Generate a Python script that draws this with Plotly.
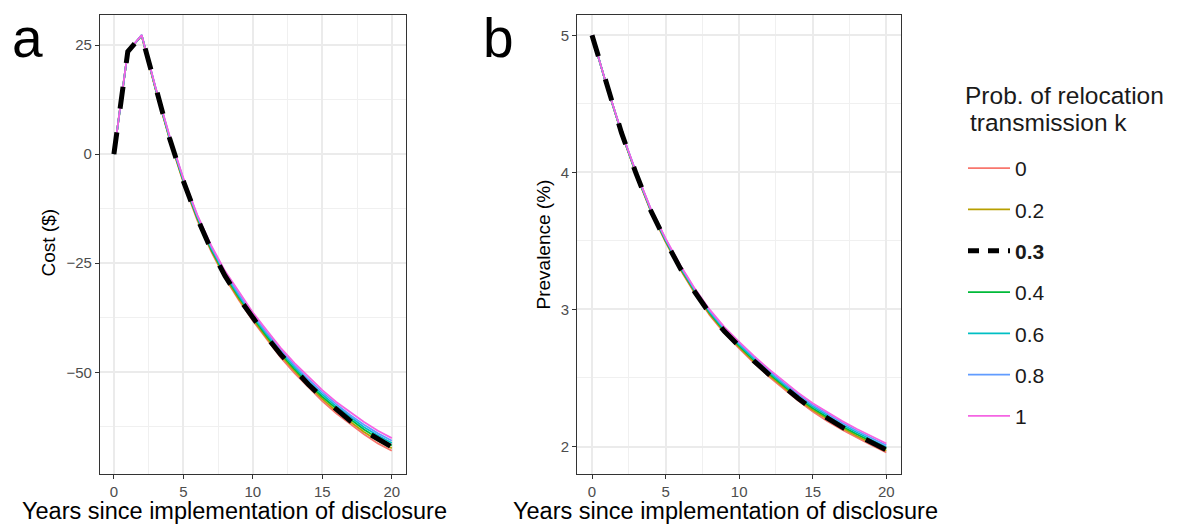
import plotly.graph_objects as go
from plotly.subplots import make_subplots

# Years since implementation of disclosure
years = list(range(21))

# Probability of relocation transmission k (legend order)
k_labels = ["0", "0.2", "0.3", "0.4", "0.6", "0.8", "1"]

# Cost ($) by year for each k
cost_k0 = [0, 23.5, 27.1, 14.8, 3.5, -6.5, -15.1, -22.3, -28.4, -33.5, -38.2,
           -42.5, -46.6, -50.2, -53.5, -56.6, -59.4, -61.9, -64.2, -66.3, -68.0]
cost_k02 = [0, 23.5, 27.2, 14.9, 3.6, -6.3, -14.8, -22.0, -28.1, -33.2, -37.8,
            -42.1, -46.1, -49.7, -53.0, -56.1, -58.9, -61.4, -63.7, -65.7, -67.4]
cost_k03 = [0, 23.5, 27.2, 14.9, 3.7, -6.2, -14.7, -21.9, -27.9, -33.0, -37.6,
            -41.9, -45.9, -49.5, -52.8, -55.8, -58.6, -61.1, -63.4, -65.4, -67.1]
cost_k04 = [0, 23.5, 27.2, 15.0, 3.8, -6.1, -14.6, -21.8, -27.7, -32.8, -37.4,
            -41.7, -45.7, -49.3, -52.6, -55.6, -58.3, -60.8, -63.1, -65.1, -66.8]
cost_k06 = [0, 23.5, 27.3, 15.1, 3.9, -5.9, -14.3, -21.5, -27.4, -32.5, -37.0,
            -41.3, -45.2, -48.8, -52.1, -55.1, -57.8, -60.3, -62.6, -64.5, -66.2]
cost_k08 = [0, 23.5, 27.3, 15.2, 4.1, -5.7, -14.1, -21.2, -27.1, -32.1, -36.7,
            -40.9, -44.8, -48.4, -51.6, -54.6, -57.3, -59.8, -62.0, -64.0, -65.7]
cost_k1 = [0, 23.6, 27.3, 15.3, 4.3, -5.5, -13.9, -20.9, -26.8, -31.7, -36.3,
           -40.4, -44.4, -47.9, -51.1, -54.1, -56.8, -59.2, -61.4, -63.4, -65.1]

# Prevalence (%) by year for each k
prev_k0 = [5.0, 4.629, 4.287, 3.986, 3.714, 3.492, 3.291, 3.115, 2.958, 2.827, 2.716,
           2.610, 2.512, 2.421, 2.335, 2.255, 2.185, 2.122, 2.064, 2.009, 1.956]
prev_k02 = [5.0, 4.630, 4.289, 3.989, 3.718, 3.497, 3.297, 3.122, 2.966, 2.836, 2.725,
            2.620, 2.523, 2.432, 2.346, 2.267, 2.198, 2.135, 2.077, 2.022, 1.969]
prev_k03 = [5.0, 4.630, 4.290, 3.990, 3.720, 3.500, 3.300, 3.125, 2.970, 2.840, 2.730,
            2.625, 2.528, 2.438, 2.352, 2.273, 2.204, 2.141, 2.083, 2.028, 1.976]
prev_k04 = [5.0, 4.630, 4.291, 3.992, 3.722, 3.503, 3.303, 3.129, 2.974, 2.844, 2.735,
            2.630, 2.533, 2.444, 2.358, 2.279, 2.210, 2.147, 2.089, 2.035, 1.983]
prev_k06 = [5.0, 4.631, 4.293, 3.995, 3.726, 3.508, 3.309, 3.136, 2.982, 2.853, 2.744,
            2.640, 2.544, 2.455, 2.369, 2.291, 2.223, 2.160, 2.102, 2.048, 1.996]
prev_k08 = [5.0, 4.632, 4.295, 3.998, 3.730, 3.513, 3.316, 3.143, 2.990, 2.862, 2.754,
            2.651, 2.555, 2.466, 2.381, 2.303, 2.235, 2.173, 2.115, 2.061, 2.009]
prev_k1 = [5.0, 4.633, 4.296, 4.001, 3.734, 3.518, 3.322, 3.150, 2.998, 2.871, 2.764,
           2.661, 2.566, 2.477, 2.393, 2.315, 2.247, 2.185, 2.128, 2.074, 2.022]

# Ticks
x_ticks = [0, 5, 10, 15, 20]
cost_ticks = [-50, -25, 0, 25]
prev_ticks = [2, 3, 4, 5]

cost_series = [cost_k0, cost_k02, cost_k03, cost_k04, cost_k06, cost_k08, cost_k1]
prev_series = [prev_k0, prev_k02, prev_k03, prev_k04, prev_k06, prev_k08, prev_k1]
line_colors = ["#F8766D", "#B79F00", "#000000", "#00BA38", "#00BFC4", "#619CFF", "#F564E3"]

FONT = "Liberation Sans, Arial, Helvetica, sans-serif"
W, H = 1182, 524

fig = make_subplots(rows=1, cols=2)

# coloured lines first, the highlighted k = 0.3 dashed line on top
draw_order = [0, 1, 3, 4, 5, 6, 2]
for i in draw_order:
    label = k_labels[i]
    highlighted = label == "0.3"
    for col, series in ((1, cost_series), (2, prev_series)):
        fig.add_trace(
            go.Scatter(
                x=years, y=series[i], mode="lines",
                line=dict(color=line_colors[i],
                          width=5 if highlighted else 1.8,
                          dash="22px,24px" if highlighted else "solid"),
                name=f"<b>{label}</b>" if highlighted else label,
                legendgroup=label, legendrank=i + 1,
                showlegend=(col == 1 and not highlighted),
                hoverinfo="skip",
            ),
            row=1, col=col,
        )

# legend key for the dashed series (shorter dashes in the key)
fig.add_trace(
    go.Scatter(x=[None], y=[None], mode="lines",
               line=dict(color="#000000", width=5, dash="11px,9px"),
               name="<b>0.3</b>", legendgroup="0.3", legendrank=3, showlegend=True),
    row=1, col=1,
)

axis_common = dict(
    showline=True, mirror=True, linecolor="#333333", linewidth=1.2,
    ticks="outside", ticklen=4, tickwidth=1, tickcolor="#333333",
    tickfont=dict(family=FONT, size=15, color="#4D4D4D"),
    showgrid=True, gridcolor="#EBEBEB", gridwidth=1.6, zeroline=False,
)
minor_grid = dict(showgrid=True, gridcolor="#F0F0F0", gridwidth=1.0)

ydom = [1 - 473.5 / H, 1 - 15 / H]
fig.update_xaxes(axis_common, row=1, col=1, domain=[100 / W, 405.7 / W], range=[-1, 21],
                 tickvals=x_ticks, minor=dict(dtick=2.5, tick0=0, **minor_grid))
fig.update_xaxes(axis_common, row=1, col=2, domain=[577.3 / W, 901 / W], range=[-1, 21],
                 tickvals=x_ticks, minor=dict(dtick=2.5, tick0=0, **minor_grid))
fig.update_yaxes(axis_common, row=1, col=1, domain=ydom, range=[-73.2, 31.9],
                 tickvals=cost_ticks, ticktext=[f"{v}".replace("-", "\u2212") for v in cost_ticks],
                 minor=dict(dtick=12.5, tick0=0, **minor_grid))
fig.update_yaxes(axis_common, row=1, col=2, domain=ydom, range=[1.803, 5.148],
                 tickvals=prev_ticks, minor=dict(dtick=0.5, tick0=0, **minor_grid))

TXT = "#1A1A1A"
annotations = [
    dict(text="a", x=10 / W, y=1 - 71 / H, xanchor="left", yanchor="bottom",
         font=dict(family=FONT, size=55, color="#000000")),
    dict(text="b", x=481 / W, y=1 - 71 / H, xanchor="left", yanchor="bottom",
         font=dict(family=FONT, size=55, color="#000000")),
    dict(text="Years since implementation of disclosure", x=20 / W, y=1 - 511 / H,
         xanchor="left", yanchor="middle", font=dict(family=FONT, size=23.5, color="#000000")),
    dict(text="Years since implementation of disclosure", x=511 / W, y=1 - 511 / H,
         xanchor="left", yanchor="middle", font=dict(family=FONT, size=23.5, color="#000000")),
    dict(text="Cost ($)", x=47.5 / W, y=1 - 243 / H, textangle=-90,
         xanchor="center", yanchor="middle", font=dict(family=FONT, size=19, color="#000000")),
    dict(text="Prevalence (%)", x=542.5 / W, y=1 - 245 / H, textangle=-90,
         xanchor="center", yanchor="middle", font=dict(family=FONT, size=19, color="#000000")),
    # legend title, two lines
    dict(text="Prob. of relocation", x=963 / W, y=1 - 95 / H,
         xanchor="left", yanchor="middle", font=dict(family=FONT, size=24.5, color=TXT)),
    dict(text="transmission k", x=968 / W, y=1 - 123 / H,
         xanchor="left", yanchor="middle", font=dict(family=FONT, size=24.5, color=TXT)),
]
for a in annotations:
    a.update(xref="paper", yref="paper", showarrow=False)

fig.update_layout(
    width=W, height=H,
    margin=dict(l=0, r=0, t=0, b=0),
    paper_bgcolor="white", plot_bgcolor="white",
    font=dict(family=FONT, color="#000000"),
    annotations=annotations,
    legend=dict(
        font=dict(family=FONT, size=21, color=TXT),
        x=963 / W, y=1 - 148 / H, xanchor="left", yanchor="top",
        traceorder="grouped", tracegroupgap=11,
        bgcolor="rgba(0,0,0,0)", itemwidth=42,
    ),
)

fig.write_html("out.html")
